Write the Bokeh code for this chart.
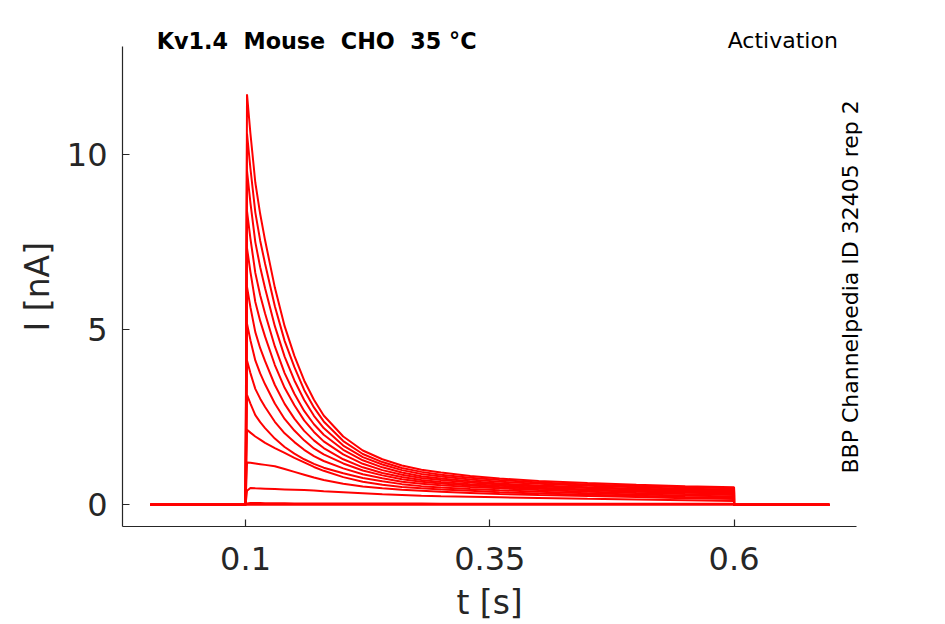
import math
from bokeh.plotting import figure
from bokeh.models import Range1d, FixedTicker, Label
from bokeh.embed import file_html
from bokeh.resources import INLINE

# ---------------- data ----------------
title_text = "Kv1.4 \u00a0Mouse \u00a0CHO \u00a035 \u00b0C"
protocol_text = "Activation"
source_text = "BBP Channelpedia ID 32405 rep 2"
x_label = "t [s]"
y_label = "I [nA]"

x_ticks = [0.1, 0.35, 0.6]
x_tick_labels = ["0.1", "0.35", "0.6"]
y_ticks = [0, 5, 10]
y_tick_labels = ["0", "5", "10"]

# axis extents (data units)
x_axis_bounds = (-0.0259, 0.7254)
y_axis_bounds = (-0.619, 13.07)

# holding segments (before / after the voltage step)
t_before = [0.0025, 0.1]
t_after = [0.6, 0.6975]
hold_current = [0.0, 0.0]

# sample times during the step (s)
t_pulse = [0.1015, 0.105, 0.11, 0.115, 0.12, 0.13, 0.14, 0.15, 0.16, 0.17,
           0.18, 0.2, 0.22, 0.24, 0.26, 0.28, 0.3, 0.33, 0.36, 0.4,
           0.45, 0.5, 0.55, 0.6]

# current of every sweep at those times (nA)
sweep_01 = [11.72, 10.6, 9.2, 8.3, 7.55, 6.2, 5.1, 4.25, 3.55, 3.0, 2.55, 1.95,
            1.55, 1.3, 1.12, 1.0, 0.92, 0.82, 0.75, 0.68, 0.62, 0.57, 0.53, 0.5]
sweep_02 = [10.6, 9.6, 8.35, 7.54, 6.88, 5.67, 4.68, 3.93, 3.28, 2.78, 2.38, 1.82,
            1.45, 1.22, 1.05, 0.94, 0.86, 0.77, 0.71, 0.64, 0.58, 0.54, 0.5, 0.47]
sweep_03 = [9.53, 8.62, 7.5, 6.78, 6.18, 5.1, 4.23, 3.55, 2.99, 2.54, 2.19, 1.69,
            1.36, 1.15, 0.99, 0.88, 0.81, 0.72, 0.66, 0.6, 0.545, 0.5, 0.46, 0.44]
sweep_04 = [8.38, 7.6, 6.62, 5.98, 5.46, 4.52, 3.76, 3.17, 2.68, 2.3, 2.0, 1.57,
            1.27, 1.07, 0.92, 0.815, 0.75, 0.67, 0.61, 0.55, 0.5, 0.46, 0.43, 0.41]
sweep_05 = [7.33, 6.65, 5.79, 5.25, 4.8, 3.99, 3.34, 2.84, 2.41, 2.08, 1.81, 1.44,
            1.17, 0.99, 0.86, 0.765, 0.705, 0.633, 0.58, 0.525, 0.478, 0.436, 0.40, 0.38]
sweep_06 = [6.22, 5.64, 4.93, 4.47, 4.1, 3.42, 2.88, 2.46, 2.11, 1.84, 1.62, 1.3,
            1.07, 0.91, 0.795, 0.71, 0.653, 0.59, 0.543, 0.49, 0.44, 0.4, 0.37, 0.35]
sweep_07 = [5.17, 4.7, 4.12, 3.75, 3.44, 2.89, 2.45, 2.12, 1.84, 1.61, 1.44, 1.18,
            0.98, 0.84, 0.73, 0.66, 0.61, 0.55, 0.506, 0.46, 0.414, 0.376, 0.344, 0.32]
sweep_08 = [4.12, 3.76, 3.31, 3.03, 2.79, 2.37, 2.04, 1.79, 1.57, 1.39, 1.25, 1.04,
            0.87, 0.76, 0.66, 0.6, 0.56, 0.51, 0.47, 0.42, 0.373, 0.335, 0.306, 0.28]
sweep_09 = [3.14, 2.89, 2.56, 2.36, 2.19, 1.89, 1.65, 1.46, 1.3, 1.17, 1.06, 0.9,
            0.765, 0.67, 0.59, 0.533, 0.496, 0.45, 0.415, 0.372, 0.331, 0.293, 0.262, 0.24]
sweep_10 = [2.14, 2.06, 1.95, 1.86, 1.77, 1.62, 1.48, 1.34, 1.21, 1.08, 0.97, 0.79,
            0.66, 0.57, 0.51, 0.47, 0.44, 0.4, 0.36, 0.32, 0.285, 0.255, 0.225, 0.2]
sweep_11 = [1.21, 1.2, 1.18, 1.16, 1.14, 1.1, 1.02, 0.94, 0.86, 0.78, 0.71, 0.6,
            0.52, 0.47, 0.43, 0.4, 0.37, 0.34, 0.31, 0.28, 0.25, 0.22, 0.19, 0.165]
sweep_12 = [0.4, 0.48, 0.47, 0.465, 0.46, 0.45, 0.44, 0.43, 0.42, 0.41, 0.39, 0.36,
            0.33, 0.3, 0.28, 0.26, 0.245, 0.23, 0.215, 0.195, 0.17, 0.15, 0.13, 0.11]
sweep_13 = [0.04, 0.05, 0.05, 0.05, 0.045, 0.045, 0.045, 0.04, 0.04, 0.04, 0.04, 0.04,
            0.035, 0.035, 0.035, 0.035, 0.03, 0.03, 0.03, 0.03, 0.03, 0.03, 0.03, 0.03]
sweep_14 = [0.0, 0.0, 0.0, 0.0, 0.0, 0.0, 0.0, 0.0, 0.0, 0.0, 0.0, 0.0,
            0.0, 0.0, 0.0, 0.0, 0.0, 0.0, 0.0, 0.0, 0.0, 0.0, 0.0, 0.0]

sweeps = [sweep_01, sweep_02, sweep_03, sweep_04, sweep_05, sweep_06, sweep_07,
          sweep_08, sweep_09, sweep_10, sweep_11, sweep_12, sweep_13, sweep_14]

# ---------------- figure ----------------
FONT = "DejaVu Sans"
AX = "#262626"

# the frame covers the whole canvas; the axes sit at fixed data locations,
# so every text (titles and axis names) can be drawn as an unclipped Label
p = figure(width=945, height=624, title=None,
           x_range=Range1d(-0.1508, 0.8164), y_range=Range1d(-3.417, 14.396),
           output_backend="svg", toolbar_location=None,
           min_border_left=0, min_border_right=0,
           min_border_top=0, min_border_bottom=0)
p.grid.visible = False
p.outline_line_color = None
p.background_fill_color = "white"
p.border_fill_color = "white"

for s in sweeps:
    p.line(t_before + t_pulse + t_after, hold_current + s + hold_current,
           line_color="#ff0000", line_width=2)

xa = p.xaxis[0]
ya = p.yaxis[0]
xa.ticker = FixedTicker(ticks=x_ticks)
ya.ticker = FixedTicker(ticks=y_ticks)
xa.major_label_overrides = {t: l for t, l in zip(x_ticks, x_tick_labels)}
ya.major_label_overrides = {t: l for t, l in zip(y_ticks, y_tick_labels)}
xa.bounds = x_axis_bounds
ya.bounds = y_axis_bounds
xa.fixed_location = y_axis_bounds[0]
ya.fixed_location = x_axis_bounds[0]

for ax in (xa, ya):
    ax.axis_line_color = AX
    ax.axis_line_width = 1.2
    ax.major_tick_line_color = AX
    ax.major_tick_line_width = 1.2
    ax.major_tick_in = 7
    ax.major_tick_out = 0
    ax.minor_tick_line_color = None
    ax.major_label_text_font = FONT
    ax.major_label_text_font_size = "32px"
    ax.major_label_text_color = AX

xa.major_label_standoff = 21
ya.major_label_standoff = 15

x_mid = 0.5 * (x_axis_bounds[0] + x_axis_bounds[1])
y_mid = 0.5 * (y_axis_bounds[0] + y_axis_bounds[1])

p.add_layout(Label(x=x_mid, y=-2.78, text=x_label, text_font=FONT,
                   text_font_size="33px", text_color=AX,
                   text_align="center", text_baseline="alphabetic"))
p.add_layout(Label(x=-0.1132, y=y_mid, text=y_label, text_font=FONT,
                   text_font_size="33px", text_color=AX,
                   text_align="center", text_baseline="alphabetic",
                   angle=math.pi / 2))
p.add_layout(Label(x=0.009, y=13.254, text=title_text, text_font=FONT,
                   text_font_style="bold", text_font_size="22.3px",
                   text_color="black", text_align="left",
                   text_baseline="alphabetic"))
p.add_layout(Label(x=0.7062, y=13.254, text=protocol_text, text_font=FONT,
                   text_font_size="22px", text_color="black",
                   text_align="right", text_baseline="alphabetic"))
p.add_layout(Label(x=0.7187, y=6.22, text=source_text, text_font=FONT,
                   text_font_size="22px", text_color="black",
                   text_align="center", text_baseline="alphabetic",
                   angle=math.pi / 2))

open("out.html", "w").write(file_html(p, INLINE))
